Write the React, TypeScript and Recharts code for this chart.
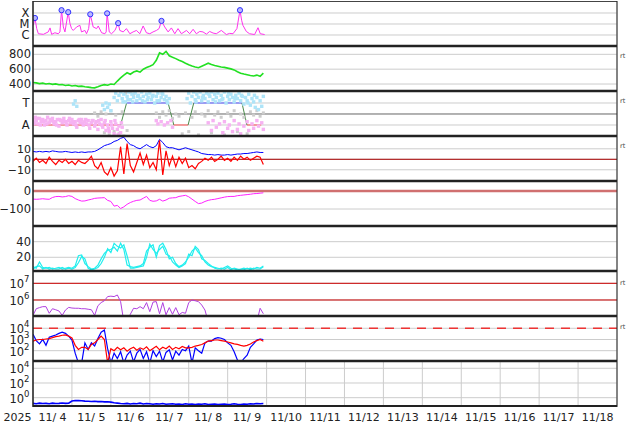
import React from 'react';
import { ComposedChart, Line, XAxis, YAxis, CartesianGrid, ReferenceLine } from 'recharts';

// time axis = hours since 2025-11-04 00:00
const dayTicks = [0, 24, 48, 72, 96, 120, 144, 168, 192, 216, 240, 264, 288, 312, 336, 360];
const dayLabels = ['11/ 4', '11/ 5', '11/ 6', '11/ 7', '11/ 8', '11/ 9', '11/10', '11/11', '11/12', '11/13', '11/14', '11/15', '11/16', '11/17', '11/18'];
const yearLabel = '2025';

const hours = [0, 2, 4, 6, 8, 10, 12, 14, 16, 18, 20, 22, 24, 26, 28, 30, 32, 34, 36, 38, 40, 42, 44, 46, 48, 50, 52, 54, 56, 58, 60, 62, 64, 66, 68, 70,
  72, 74, 76, 78, 80, 82, 84, 86, 88, 90, 92, 94, 96, 98, 100, 102, 104, 106, 108, 110, 112, 114, 116, 118, 120, 122, 124, 126, 128, 130, 132, 134, 136, 138, 140, 142];

// X-ray flux
const xrayHours = [0.2, 1.2, 2.3, 3.3, 6.4, 9.4, 10.5, 11.5, 13.5, 15.6, 16.6, 17.6, 18.7, 19.7, 21.7, 22.8, 23.8, 24.8, 26.9, 28.9, 29.9, 32.0, 33.0, 34.3,
  35.3, 37.1, 39.2, 40.2, 42.3, 44.3, 45.1, 45.7, 47.0, 48.4, 50.5, 52.5, 53.5, 55.6, 57.6, 59.7, 61.7, 63.8, 65.8, 67.9, 69.9, 72.0, 74.0, 76.1,
  77.7, 79.2, 81.2, 83.3, 85.3, 87.4, 89.4, 91.5, 94.6, 96.6, 98.7, 100.7, 102.8, 104.8, 106.9, 108.9, 111.0, 113.0, 116.1, 119.2, 121.2, 123.3,
  125.7, 127.6, 128.6, 129.4, 131.5, 133.5, 136.6, 138.7, 140.1, 142.8];
const xrayFlux = [7.6e-6, 3.5e-5, 3.8e-6, 1.3e-6, 1.15e-6, 1.9e-6, 4.4e-6, 1.15e-6, 1.6e-6, 1.3e-6, 1.9e-6, 1.8e-4, 5.4e-6, 1.9e-6, 1.2e-4, 1.07e-5,
  3.8e-6, 2.6e-6, 5.4e-6, 7.6e-6, 1.9e-6, 2.6e-6, 1.3e-6, 3.8e-6, 7.6e-5, 5.4e-6, 3.8e-6, 6.6e-6, 1.6e-6, 1.3e-6, 1.9e-6, 9.3e-5, 1.9e-6, 1.3e-6,
  2.6e-6, 1.2e-5, 2.6e-6, 1.9e-6, 3.8e-6, 1.3e-6, 1.9e-6, 2.6e-6, 1.3e-6, 6.6e-6, 1.6e-6, 1.3e-6, 1.9e-6, 2.6e-6, 3.8e-6, 1.9e-5, 5.4e-6, 1.9e-6,
  4.4e-6, 1.3e-6, 3.8e-6, 1.3e-6, 2.6e-6, 1.3e-6, 3.3e-6, 1.3e-6, 2.1e-6, 1.9e-6, 1.2e-6, 2.1e-6, 1.5e-6, 1.3e-6, 2.6e-6, 1.1e-6, 1.4e-6, 1.3e-6,
  3.8e-6, 1.8e-4, 2.2e-5, 7.6e-6, 2.1e-6, 1.3e-6, 1.1e-6, 4.6e-6, 1.3e-6, 1.1e-6];
const flareHours = [1.2, 17.6, 21.7, 35.3, 45.7, 52.5, 79.2, 127.6];
const flareFlux = [3.5e-5, 1.8e-4, 1.2e-4, 7.6e-5, 9.3e-5, 1.2e-5, 1.9e-5, 1.8e-4];
const xrayTicks = [1e-6, 1e-5, 1e-4];
const xrayClasses = ['C', 'M', 'X'];

// solar wind speed
const windSpeed = [420, 415, 405, 412, 400, 406, 396, 402, 390, 394, 380, 386, 374, 380, 368, 372, 364, 358, 352, 348, 362, 380, 392, 384,
  400, 394, 440, 482, 520, 552, 532, 562, 576, 560, 600, 622, 640, 660, 720, 820, 800, 840, 780, 760, 742, 720, 702, 680,
  660, 642, 630, 620, 640, 660, 680, 662, 650, 640, 630, 624, 614, 604, 590, 566, 546, 534, 524, 514, 508, 520, 504, 546];

// IMF sector
const sectorTicks = [-1, 1];
const sectorNames = ['A', 'T'];
const sectorTurnHours = [0, 54, 57.7, 83.3, 86.8, 95.6, 99.1, 128.8, 131.9, 140.7];
const sectorTurnVals = [-1, -1, 1, 1, -1, -1, 1, 1, -1, -1];
const awayDots = [[0, -0.5], [1, -0.8], [1.5, -0.3], [2, -0.6], [3, -0.9], [4, -0.4], [5, -0.7], [6, -0.5], [7, -1.0], [8, -0.6], [9, -0.3], [10, -0.8],
  [11, -0.6], [12, -0.4], [13, -0.9], [14, -0.7], [15, -0.5], [16, -1.1], [17, -0.6], [18, -0.8], [19, -0.4], [20, -0.7], [21, -1.0], [22, -0.6],
  [23, -0.8], [24, -0.5], [25, -0.9], [26, -0.7], [27, -1.2], [28, -0.6], [29, -0.8], [30, -0.5], [31, -1.0], [32, -0.7], [33, -0.9], [34, -0.6],
  [35, -1.3], [36, -0.8], [37, -0.6], [38, -1.1], [39, -0.7], [40, -1.4], [41, -0.9], [42, -0.5], [43, -1.2], [44, -0.8], [45, -1.5], [46, -1.0],
  [47, -1.6], [48, -0.7], [49, -1.3], [50, -1.8], [51, -0.9], [52, -1.4], [53, -1.1], [54, -1.7], [55, -1.2],
  [0.5, -0.9], [2.5, -0.4], [4.5, -1.0], [6.5, -0.7], [8.5, -0.9], [10.5, -0.5], [12.5, -0.7], [14.5, -1.0], [16.5, -0.5], [18.5, -0.6],
  [20.5, -0.9], [22.5, -0.4], [24.5, -0.7], [26.5, -1.0], [28.5, -0.5], [30.5, -0.8], [32.5, -0.5], [34.5, -1.0], [36.5, -0.6], [38.5, -0.9],
  [40.5, -0.6], [42.5, -1.0], [44.5, -0.6], [46.5, -1.3], [48.5, -1.0], [50.5, -0.6], [52.5, -1.9], [54.5, -0.8],
  [76, -0.6], [77, -0.9], [79, -0.7], [81, -1.0], [83, -0.8], [85, -0.6], [86, -1.2],
  [108, -0.8], [110, -1.5], [111, -0.6], [113, -1.2], [115, -0.9], [117, -1.7], [118, -0.7], [120, -1.3], [121, -1.0], [123, -1.6], [124, -0.6],
  [126, -1.4], [127, -0.9], [128, -1.8], [130, -1.1], [132, -0.7], [133, -1.5], [135, -0.9], [136, -1.3], [138, -0.6], [139, -1.1], [141, -0.8], [142, -1.4]];
const towardDots = [[25, 0.9], [26, 1.2], [27, 0.7], [43, 0.8], [44, 0.4], [45, 1.0], [46, 0.6], [47, 0.9], [48, 0.3],
  [50, 1.5], [51, 1.9], [52, 1.2], [53, 1.7], [54, 2.0], [55, 1.4], [56, 1.8], [57, 1.1], [58, 1.6], [59, 2.0], [60, 1.3], [61, 1.8], [62, 1.5],
  [63, 1.9], [64, 1.2], [65, 1.7], [66, 1.4], [67, 2.0], [68, 1.6], [69, 1.1], [70, 1.8], [71, 1.5], [72, 1.9], [73, 1.3], [74, 1.7], [75, 1.0],
  [76, 1.6], [77, 1.9], [78, 1.2], [79, 1.5], [80, 1.8], [81, 1.3], [82, 1.6], [83, 1.0], [84, 1.4],
  [55.5, 1.1], [58.5, 1.3], [61.5, 1.1], [64.5, 1.6], [67.5, 1.2], [70.5, 1.3], [73.5, 1.6], [76.5, 1.2], [79.5, 1.9], [82.5, 1.2],
  [95, 1.4], [96, 1.9], [97, 1.0], [98, 1.6], [99, 2.0], [100, 1.3], [101, 1.8], [102, 1.5], [103, 2.0], [104, 1.2], [105, 1.7], [106, 1.4],
  [107, 1.9], [108, 1.1], [109, 1.6], [110, 2.0], [111, 1.3], [112, 1.8], [113, 1.5], [114, 1.9], [115, 1.2], [116, 1.7], [117, 1.4], [118, 2.0],
  [119, 1.0], [120, 1.6], [121, 1.3], [122, 1.8], [123, 1.5], [124, 1.1], [125, 1.7], [126, 1.4], [127, 1.9], [128, 1.2], [129, 1.6], [130, 0.9],
  [131, 1.5], [132, 1.2], [133, 1.8], [134, 0.8], [135, 1.4], [136, 1.1], [137, 0.6], [138, 1.5], [139, 0.4], [140, 1.2], [141, 0.7], [142, 1.6],
  [100.5, 1.1], [104.5, 1.5], [108.5, 1.8], [112.5, 1.1], [116.5, 1.3], [120.5, 1.9], [124.5, 1.4], [128.5, 1.7], [132.5, 1.0], [136.5, 1.7]];
const mixedDots = [[38, 0.1], [40, -0.2], [42, 0.2], [44, -1.7], [45, 0.0], [47, -1.9], [48, 0.3], [50, -1.6], [51, -0.1], [53, -1.8], [55, 0.2],
  [56, -2.0], [57, 1.9], [58, -1.5], [60, 2.0], [62, 1.8], [76, 0.1], [78, -0.3], [80, 0.2], [82, -0.1], [84, 0.3], [86, -0.4], [88, 0.0], [90, -0.2],
  [92, -1.8], [94, 0.1], [96, -1.6], [98, -0.3], [100, 0.2], [102, -1.9], [104, 0.0], [106, -0.2], [108, 0.3], [110, -1.7], [112, -0.1], [114, 0.2],
  [116, -0.3], [118, -1.9], [120, 0.1], [122, -0.2], [124, 0.3], [126, -1.6], [128, 0.0], [130, -0.3], [132, -1.8], [134, 0.2], [136, -0.1],
  [138, 0.3], [140, -0.2], [142, 0.1]];

// IMF Bt / Bz (nT)
const imfBt = [7.5, 7, 7.5, 7, 7.5, 7, 8, 7.5, 7, 7, 7.5, 7, 6.5, 7, 6.5, 7, 6.5, 7, 7, 7.5, 9, 11, 13, 14,
  15, 17, 18, 20, 21, 17, 14, 13, 11, 10, 12, 14, 12, 11, 13, 19, 16, 12, 11, 11, 10, 9, 10, 11,
  10, 9, 8, 7, 5.5, 5, 4.5, 4.5, 4, 4.5, 4, 4, 4.5, 4, 4.5, 5, 5, 5.5, 5.5, 6, 6.5, 7, 6.5, 6.5];
const imfBz = [-2, 1, -3, -1, -4, 2, -2, -5, -1, -3, 0, -4, -2, -5, -1, -3, -4, -1, 3, -6, -9, -3, -12, -15,
  -8, -16, -11, 12, -14, 15, -6, -12, -3, 6, -5, 4, -8, -3, -10, 18, -15, 8, -6, 3, -7, 2, -4, 1,
  -8, -6, -9, -4, -2, 1, -1, 2, -2, 0, 3, -1, 1, -2, 2, -1, 3, 0, 2, -1, 1, 3, 2, -5];

// Dst (nT)
const dstIndex = [-45, -46, -45, -43, -45, -46, -36, -31, -30, -33, -31, -26, -30, -42, -50, -56, -55, -50, -46, -41, -39, -38, -37, -52,
  -58, -84, -80, -97, -88, -74, -64, -57, -52, -50, -40, -30, -52, -57, -55, -46, -56, -50, -40, -38, -37, -30, -27, -24,
  -32, -45, -58, -70, -67, -58, -52, -48, -46, -42, -38, -34, -31, -30, -30, -26, -24, -22, -20, -18, -15, -14, -12, -10];

// geomagnetic activity (two stations)
const activityA = [8, 6, 14, 7, 6, 7, 5, 6, 7, 5, 6, 7, 6, 9, 22, 23, 12, 8, 5, 6, 10, 18, 25, 29,
  30, 33, 28, 38, 30, 10, 8, 7, 8, 9, 12, 28, 33, 36, 20, 35, 38, 30, 18, 20, 12, 8, 10, 14,
  20, 28, 32, 26, 22, 14, 10, 8, 7, 6, 5, 7, 9, 6, 5, 4, 5, 6, 5, 6, 5, 7, 6, 9];
const activityB = [5, 8, 9, 5, 7, 5, 6, 5, 5, 7, 5, 6, 5, 7, 13, 21, 18, 6, 4, 5, 7, 12, 20, 31,
  26, 38, 34, 32, 36, 22, 6, 6, 7, 8, 9, 20, 37, 30, 25, 30, 34, 24, 22, 14, 10, 7, 9, 12,
  24, 22, 34, 30, 18, 16, 12, 9, 6, 5, 6, 5, 7, 4, 6, 5, 4, 4, 6, 4, 6, 5, 5, 8];

// electron flux
const electronFlux = [1.2e5, 3e5, 3.5e5, 4e5, 4e5, 1.6e5, 3e5, 2.6e5, 2.2e5, 1.2e5, 2.5e5, 3.6e5, 3.3e5, 3.2e5, 3.2e5, 3e5, 3e5, 2.8e5, 2.6e5, 1.2e5,
  4.5e5, 7e5, 9e5, 1.6e6, 1.7e6, 1.6e6, 2e6, 8e5, 5e4, 5e4, 1.4e5, 3.2e5, 3e5, 4e5, 3e5, 7e5, 2e5, 7.5e5, 8e5, 1.5e5,
  7e5, 1.3e5, 3.5e5, 1.4e5, 3.5e5, 1.3e5, 1.8e5, 1.6e5, 7e5, 1e6, 9e5, 8e5, 5e5, 2.5e5, 5e4,
  null, null, null, null, null, null, null, null, null, null, null, null, null, null, 5e4, 3.2e5, 1.5e5];
const electronTicks = [1e6, 1e7];

// proton flux
const protonLow = [2900, 800, 400, 1000, 300, 1600, 2000, 2500, 3500, 4500, 3500, 2000, 900, 60, 8, 8, 500, 130, 500, 260, 1200, 4500, 7000, 150,
  8, 60, 20, 80, 8, 40, 90, 10, 60, 130, 20, 80, 8, 100, 30, 90, 10, 70, 120, 15, 90, 40, 130, 100,
  260, 8, 180, 100, 60, 500, 720, 720, 1200, 1450, 1300, 1000, 500, 300, 80, 15, 8, 20, 40, 200, 400, 900, 1100, 1000];
const protonHigh = [720, 900, 1000, 1000, 1100, 1200, 1450, 1800, 2000, 2400, 2600, 2000, 1400, 300, 130, 200, 200, 130, 360, 500, 1000, 2000, 1000, 8,
  150, 100, 200, 120, 180, 90, 150, 200, 110, 180, 130, 220, 100, 160, 250, 120, 200, 150, 260, 130, 200, 150, 240, 180,
  180, 200, 260, 300, 360, 500, 720, 800, 900, 900, 800, 720, 600, 500, 400, 360, 300, 260, 300, 400, 600, 800, 1000, 700];
const protonTicks = [1e2, 1e3, 1e4];
const protonAlert = 1e4;

// bottom panel
const bottomFlux = [0.17, 0.15, 0.18, 0.16, 0.17, 0.15, 0.18, 0.16, 0.17, 0.19, 0.17, 0.18, 0.35, 0.42, 0.4, 0.38, 0.34, 0.32, 0.3, 0.33, 0.29, 0.3, 0.27, 0.28,
  0.25, 0.2, 0.18, 0.16, 0.15, 0.17, 0.14, 0.16, 0.15, 0.18, 0.14, 0.16, 0.15, 0.13, 0.15, 0.14, 0.16, 0.13, 0.14, 0.15, 0.13, 0.14, 0.12, 0.15,
  0.13, 0.14, 0.12, 0.14, 0.13, 0.15, 0.12, 0.13, 0.14, 0.12, 0.13, 0.14, 0.12, 0.13, 0.15, 0.13, 0.12, 0.14, 0.13, 0.15, 0.14, 0.16, 0.15, 0.16];
const bottomTicks = [1, 1e2, 1e4];

const W = 634;
const PLOT_L = 33;
const PLOT_R = 17;
const PANEL_H = 45;
const panelTops = [1, 46, 91, 136, 181, 226, 271, 316, 361];
const unitMarkY = [58, 103, 148, 285, 329];
const FONT = 'DejaVu Sans';

const rows = (cols: Record<string, any[]>) =>
  hours.map((h, i) => {
    const r: any = { h };
    for (const k in cols) r[k] = cols[k][i];
    return r;
  });
const pts = (hs: number[], vs: number[]) => hs.map((h, i) => ({ h, v: vs[i] }));
const pairs = (p: number[][]) => p.map(([h, v]) => ({ h, v }));

const nameTick = (vals: number[], names: string[], size: number, shift: number) => (p: any) => (
  <text x={p.x - shift} y={p.y} dy={4.5} textAnchor="end" fontSize={size} fontFamily={FONT} fill="#222">
    {names[vals.indexOf(p.payload.value)]}
  </text>
);
const numTick = (size: number) => (p: any) => (
  <text x={p.x} y={p.y} dy={4} textAnchor="end" fontSize={size} fontFamily={FONT} fill="#222">
    {String(p.payload.value).replace('-', '\u2212')}
  </text>
);
const powTick = (p: any) => (
  <text x={p.x - 1.5} y={p.y} dy={5} textAnchor="end" fontSize={11.5} fontFamily={FONT} fill="#222">
    <tspan>10</tspan>
    <tspan dy={-6} fontSize={8.5}>{Math.round(Math.log10(p.payload.value))}</tspan>
  </text>
);
const DayTick = (p: any) => {
  const i = dayTicks.indexOf(p.payload.value);
  return (
    <g fontFamily={FONT} fontSize={11} fill="#222">
      {i === 0 && <text x={p.x - 1.5} y={p.y + 15} textAnchor="end">{yearLabel}</text>}
      {i >= 0 && i < dayLabels.length && (
        <text x={p.x + 19.5} y={p.y + 15} textAnchor="middle">{dayLabels[i]}</text>
      )}
    </g>
  );
};

const boxDot = (color: string, size: number) => (p: any) => (
  <rect key={p.index} x={p.cx - size / 2} y={p.cy - size / 2} width={size} height={size} fill={color} />
);

type PanelProps = {
  top: number;
  data?: any[];
  domain: [number, number];
  ticks: number[];
  log?: boolean;
  tick: any;
  bottom?: boolean;
  children: React.ReactNode;
};

function Panel({ top, data, domain, ticks, log, tick, bottom, children }: PanelProps) {
  return (
    <div style={{ position: 'absolute', left: 0, top }}>
      <ComposedChart width={W} height={PANEL_H + (bottom ? 18 : 0)} data={data} style={{ overflow: 'visible' }}
        margin={{ top: 0, right: PLOT_R, bottom: 0, left: 0 }}>
        <CartesianGrid stroke="#cccccc" strokeWidth={1} />
        <XAxis type="number" dataKey="h" domain={[0, 360]} ticks={dayTicks} interval={0} allowDataOverflow
          hide={!bottom} height={bottom ? 18 : 0} axisLine={false} tickLine={false} tickSize={0} tickMargin={0}
          tick={bottom ? DayTick : false} />
        <YAxis type="number" width={PLOT_L} domain={domain} ticks={ticks} interval={0} scale={log ? 'log' : 'linear'}
          allowDataOverflow axisLine={false} tickLine={false} tickSize={0} tickMargin={2} tick={tick} />
        {children}
      </ComposedChart>
    </div>
  );
}

const sectorColor = (a: number, b: number) => (a !== b ? '#4a8a4a' : a > 0 ? '#5050ff' : '#ff5050');

export default function App() {
  const xrayRows = pts(xrayHours, xrayFlux);
  const flareRows = pts(flareHours, flareFlux);
  const segs = sectorTurnHours.slice(0, -1).map((h, k) => ({
    color: sectorColor(sectorTurnVals[k], sectorTurnVals[k + 1]),
    data: [{ h, v: sectorTurnVals[k] }, { h: sectorTurnHours[k + 1], v: sectorTurnVals[k + 1] }],
  }));

  return (
    <div style={{ position: 'absolute', left: 0, top: 0, width: W, height: 424, background: '#fff' }}>
      <Panel top={panelTops[0]} data={xrayRows} domain={[1e-7, 1.23e-3]} ticks={xrayTicks} log tick={nameTick(xrayTicks, xrayClasses, 11.5, 1.5)}>
        <Line dataKey="v" stroke="#ff33ee" strokeWidth={1} dot={false} isAnimationActive={false} />
        <Line data={flareRows} dataKey="v" stroke="none" isAnimationActive={false}
          dot={{ r: 2.6, fill: '#b8b8ff', stroke: '#3030ff', strokeWidth: 1 }} activeDot={false} />
      </Panel>

      <Panel top={panelTops[1]} data={rows({ v: windSpeed })} domain={[306, 912]} ticks={[400, 600, 800]} tick={numTick(11.5)}>
        <Line dataKey="v" stroke="#22e022" strokeWidth={1.6} dot={false} isAnimationActive={false} />
      </Panel>

      <Panel top={panelTops[2]} domain={[-2, 2.09]} ticks={sectorTicks} tick={nameTick(sectorTicks, sectorNames, 11.5, 1.5)}>
        <Line data={pairs(mixedDots)} dataKey="v" stroke="none" dot={boxDot('#cccccc', 3)} activeDot={false} isAnimationActive={false} />
        <Line data={pairs(awayDots)} dataKey="v" stroke="none" dot={boxDot('#f6b2f2', 3.4)} activeDot={false} isAnimationActive={false} />
        <Line data={pairs(towardDots)} dataKey="v" stroke="none" dot={boxDot('#aee4f8', 3.4)} activeDot={false} isAnimationActive={false} />
        <ReferenceLine y={0} stroke="#666666" strokeWidth={1} />
        {segs.map((s, k) => (
          <Line key={k} data={s.data} dataKey="v" stroke={s.color} strokeWidth={1} dot={false} isAnimationActive={false} />
        ))}
      </Panel>

      <Panel top={panelTops[3]} data={rows({ bt: imfBt, bz: imfBz })} domain={[-20.7, 22.2]} ticks={[-10, 0, 10]} tick={numTick(11)}>
        <ReferenceLine y={0} stroke="#aa0000" strokeWidth={1} />
        <Line dataKey="bt" stroke="#0000ff" strokeWidth={1} dot={false} isAnimationActive={false} />
        <Line dataKey="bz" stroke="#ff0000" strokeWidth={1.2} dot={false} isAnimationActive={false} />
      </Panel>

      <Panel top={panelTops[4]} data={rows({ v: dstIndex })} domain={[-194.4, 55.6]} ticks={[-100, 0]} tick={numTick(11.5)}>
        <ReferenceLine y={0} stroke="#d07070" strokeWidth={2.5} />
        <Line dataKey="v" stroke="#ff22ff" strokeWidth={1} dot={false} isAnimationActive={false} />
      </Panel>

      <Panel top={panelTops[5]} data={rows({ a: activityA, b: activityB })} domain={[2.44, 60.1]} ticks={[20, 40]} tick={numTick(11.5)}>
        <Line dataKey="a" stroke="#22eeee" strokeWidth={1.2} dot={false} isAnimationActive={false} />
        <Line dataKey="b" stroke="#22eeee" strokeWidth={1.2} dot={false} isAnimationActive={false} />
      </Panel>

      <Panel top={panelTops[6]} data={rows({ v: electronFlux })} domain={[1.1e5, 5.46e7]} ticks={electronTicks} log tick={powTick}>
        <ReferenceLine y={1e7} stroke="#cc0000" strokeWidth={1} />
        <ReferenceLine y={1e6} stroke="#cc0000" strokeWidth={1} />
        <Line dataKey="v" stroke="#b040e0" strokeWidth={1} dot={false} isAnimationActive={false} />
      </Panel>

      <Panel top={panelTops[7]} data={rows({ lo: protonLow, hi: protonHigh })} domain={[12, 1.25e5]} ticks={protonTicks} log tick={powTick}>
        <ReferenceLine y={protonAlert} stroke="#ee3333" strokeWidth={1.5} strokeDasharray="9 7" />
        <Line dataKey="lo" stroke="#0000ff" strokeWidth={1.2} dot={false} isAnimationActive={false} />
        <Line dataKey="hi" stroke="#ff0000" strokeWidth={1.2} dot={false} isAnimationActive={false} />
      </Panel>

      <Panel top={panelTops[8]} data={rows({ v: bottomFlux })} domain={[0.074, 9.8e4]} ticks={bottomTicks} log tick={powTick} bottom>
        <Line dataKey="v" stroke="#0000ff" strokeWidth={1.6} dot={false} isAnimationActive={false} />
      </Panel>

      <svg width={W} height={424} style={{ position: 'absolute', left: 0, top: 0, pointerEvents: 'none' }}>
        <line x1={33} x2={617} y1={1.5} y2={1.5} stroke="#444" strokeWidth={1} />
        {panelTops.slice(1).map((t) => (
          <line key={t} x1={33} x2={617} y1={t} y2={t} stroke="#222" strokeWidth={2.5} />
        ))}
        <line x1={33} x2={617} y1={406} y2={406} stroke="#222" strokeWidth={2} />
        <line x1={33} x2={33} y1={1} y2={407} stroke="#222" strokeWidth={1.5} />
        <line x1={617} x2={617} y1={1} y2={407} stroke="#222" strokeWidth={1} />
        {unitMarkY.map((y) => (
          <text key={y} x={620} y={y} fontSize={6.5} fontFamily={FONT} fill="#444">rt</text>
        ))}
      </svg>
    </div>
  );
}
